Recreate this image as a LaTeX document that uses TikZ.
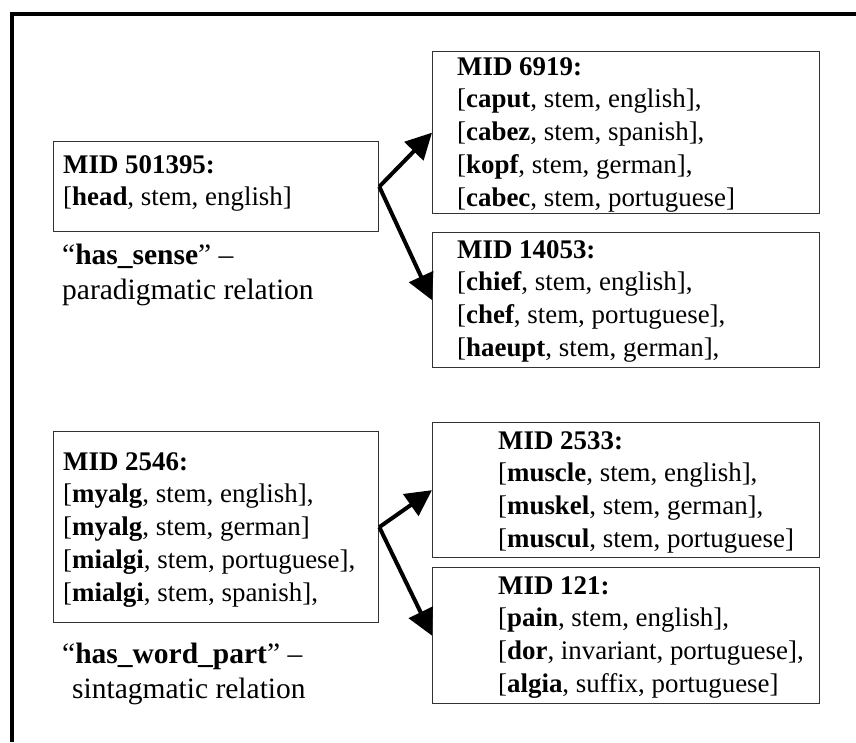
\documentclass[tikz,border=0pt]{standalone}
\usepackage{fontspec}
\setmainfont{Liberation Serif}
\usetikzlibrary{arrows.meta}
\begin{document}
\begin{tikzpicture}[x=1pt,y=-1pt,
  box/.style={draw=black!80, line width=1.3pt, inner sep=0pt, anchor=north west},
  txt/.style={anchor=base west, inner sep=0pt, font=\fontsize{26.9}{32.8}\selectfont},
  lbl/.style={anchor=base west, inner sep=0pt, font=\fontsize{29.5}{35}\selectfont},
  arr/.style={line width=4pt, -{Triangle[length=26pt,width=26pt]}}]
\useasboundingbox (0,0) rectangle (856,742);
\draw[line width=4pt] (12,742) -- (12,14) -- (856,14);

% boxes
\node[box, minimum width=325pt, minimum height=90pt] (a) at (53,141) {};
\node[box, minimum width=387pt, minimum height=162pt] (b) at (432,51) {};
\node[box, minimum width=387pt, minimum height=135pt] (c) at (432,232) {};
\node[box, minimum width=325pt, minimum height=191pt] (d) at (53,431) {};
\node[box, minimum width=387pt, minimum height=135pt] (e) at (432,422) {};
\node[box, minimum width=387pt, minimum height=136pt] (f) at (432,567) {};

% texts
\node[txt] (at) at (63,173) {\begin{tabular}[t]{@{}l@{}}\textbf{MID 501395:}\\
{[}\textbf{head}, stem, english{]}\end{tabular}};
\node[txt] (bt) at (457,75) {\begin{tabular}[t]{@{}l@{}}\textbf{MID 6919:}\\
{[}\textbf{caput}, stem, english{]},\\
{[}\textbf{cabez}, stem, spanish{]},\\
{[}\textbf{kopf}, stem, german{]},\\
{[}\textbf{cabec}, stem, portuguese{]}\end{tabular}};
\node[txt] (ct) at (457,258) {\begin{tabular}[t]{@{}l@{}}\textbf{MID 14053:}\\
{[}\textbf{chief}, stem, english{]},\\
{[}\textbf{chef}, stem, portuguese{]},\\
{[}\textbf{haeupt}, stem, german{]},\end{tabular}};
\node[txt] (dt) at (63,470) {\begin{tabular}[t]{@{}l@{}}\textbf{MID 2546:}\\
{[}\textbf{myalg}, stem, english{]},\\
{[}\textbf{myalg}, stem, german{]}\\
{[}\textbf{mialgi}, stem, portuguese{]},\\
{[}\textbf{mialgi}, stem, spanish{]},\end{tabular}};
\node[txt] (et) at (498,449) {\begin{tabular}[t]{@{}l@{}}\textbf{MID 2533:}\\
{[}\textbf{muscle}, stem, english{]},\\
{[}\textbf{muskel}, stem, german{]},\\
{[}\textbf{muscul}, stem, portuguese{]}\end{tabular}};
\node[txt] (ft) at (498,594) {\begin{tabular}[t]{@{}l@{}}\textbf{MID 121:}\\
{[}\textbf{pain}, stem, english{]},\\
{[}\textbf{dor}, invariant, portuguese{]},\\
{[}\textbf{algia}, suffix, portuguese{]}\end{tabular}};

% labels
\node[lbl] (l1) at (62,264) {\begin{tabular}[t]{@{}l@{}}“\textbf{has\_sense}” –\\
paradigmatic relation\end{tabular}};
\node[lbl] (l2) at (62,663) {\begin{tabular}[t]{@{}l@{}}“\textbf{has\_word\_part}” –\\
\hspace*{10pt}sintagmatic relation\end{tabular}};

% arrows
\draw[arr] (a.east) -- (b.west);
\draw[arr] (a.east) -- (c.west);
\draw[arr] (d.east) -- (e.west);
\draw[arr] (d.east) -- (f.west);
\end{tikzpicture}
\end{document}
